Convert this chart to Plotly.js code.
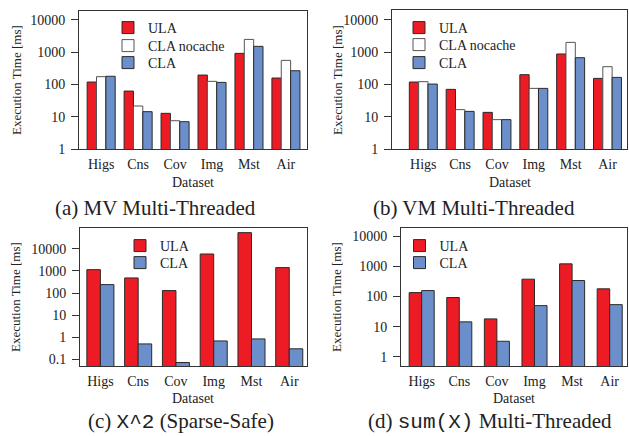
<!DOCTYPE html>
<html>
<head>
<meta charset="utf-8">
<script src="https://cdn.plot.ly/plotly-3.0.1.min.js"></script>
<style>html,body{margin:0;padding:0;background:#fff;}#chart{width:629px;height:436px;}</style>
</head>
<body>
<div id="chart"></div>
<script>
// ---- data ----
const datasets = ['Higs', 'Cns', 'Cov', 'Img', 'Mst', 'Air'];

// (a) MV Multi-Threaded
const mvULA     = [118, 62, 12.7, 194, 910, 157];
const mvNocache = [173, 21.4, 7.5, 124, 2460, 553];
const mvCLA     = [178, 14.3, 7.0, 115, 1500, 264];

// (b) VM Multi-Threaded
const vmULA     = [118, 70, 13.6, 199, 869, 153];
const vmNocache = [121, 16.5, 8.1, 75, 1990, 352];
const vmCLA     = [102, 14.6, 8.1, 75, 668, 164];

// (c) X^2 (Sparse-Safe)
const sqULA = [1140, 480, 129, 5820, 53700, 1410];
const sqCLA = [240, 0.50, 0.072, 0.68, 0.84, 0.30];

// (d) sum(X) Multi-Threaded
const sumULA = [135, 93, 18.2, 376, 1210, 180];
const sumCLA = [158, 14.5, 3.3, 50, 339, 54];

const ticksMain = [1, 10, 100, 1000, 10000];
const ticksMainText = ['1', '10', '100', '1000', '10000'];
const ticksSq = [0.1, 1, 10, 100, 1000, 10000];
const ticksSqText = ['0.1', '1', '10', '100', '1000', '10000'];

const MONO = 'Liberation Mono';
const captions = ['(a) MV Multi-Threaded', '(b) VM Multi-Threaded',
  '(c) <span style="font-family:' + MONO + '">X^2</span> (Sparse-Safe)',
  '(d) <span style="font-family:' + MONO + '">sum(X)</span> Multi-Threaded'];
const yTitle = 'Execution Time [ms]';
const xTitle = 'Dataset';
const names = ['ULA', 'CLA nocache', 'CLA'];

// ---- style ----
const RED = '#ed1c24', BLUE = '#6b8fca', WHITE = '#ffffff';
const EDGE = '#2a2a2a';
const SERIF = 'Liberation Serif';
const W = 629, H = 436;
const px = v => v / W;
const py = v => 1 - v / H;

function bar(x, y, name, color, xa, ya, lg, width, offset, edge) {
  return {
    type: 'bar', x: x, y: y, name: name, xaxis: xa, yaxis: ya, legend: lg,
    showlegend: true,
    width: width, offset: offset,
    marker: {color: color, line: {color: edge || EDGE, width: 1}},
    hoverinfo: 'x+y+name'
  };
}

const w3 = 0.253, w2c = 0.358, w2d = 0.333;
const traces = [
  bar(datasets, mvULA, names[0], RED, 'x', 'y', 'legend', w3, -1.5 * w3),
  bar(datasets, mvNocache, names[1], WHITE, 'x', 'y', 'legend2', w3, -0.5 * w3, '#555'),
  bar(datasets, mvCLA, names[2], BLUE, 'x', 'y', 'legend3', w3, 0.5 * w3),
  bar(datasets, vmULA, names[0], RED, 'x2', 'y2', 'legend4', w3, -1.5 * w3),
  bar(datasets, vmNocache, names[1], WHITE, 'x2', 'y2', 'legend5', w3, -0.5 * w3, '#555'),
  bar(datasets, vmCLA, names[2], BLUE, 'x2', 'y2', 'legend6', w3, 0.5 * w3),
  bar(datasets, sqULA, names[0], RED, 'x3', 'y3', 'legend7', w2c, -w2c),
  bar(datasets, sqCLA, names[2], BLUE, 'x3', 'y3', 'legend8', w2c, 0),
  bar(datasets, sumULA, names[0], RED, 'x4', 'y4', 'legend9', w2d, -w2d),
  bar(datasets, sumCLA, names[2], BLUE, 'x4', 'y4', 'legend10', w2d, 0)
];

function xax(dom, range, anchor) {
  return {
    domain: dom, range: range, anchor: anchor, type: 'category',
    showline: true, mirror: true, linecolor: '#333', linewidth: 1,
    ticks: '', showgrid: false, zeroline: false, fixedrange: true,
    tickfont: {family: SERIF, size: 14, color: '#222'}, ticklabelstandoff: 2
  };
}
function yax(dom, range, anchor, tv, tt) {
  return {
    domain: dom, range: range, anchor: anchor, type: 'log',
    tickvals: tv, ticktext: tt,
    showline: true, mirror: true, linecolor: '#333', linewidth: 1,
    ticks: 'outside', ticklen: 7, tickcolor: '#333', tickwidth: 1,
    showgrid: false, zeroline: false, fixedrange: true,
    tickfont: {family: SERIF, size: 14, color: '#222'}, ticklabelstandoff: 3
  };
}
function leg(xp, yp) {
  return {
    x: px(xp), y: py(yp), xanchor: 'left', yanchor: 'middle',
    bgcolor: 'rgba(0,0,0,0)', borderwidth: 0,
    font: {family: SERIF, size: 14, color: '#222'}, tracegroupgap: 0
  };
}
function ann(text, xp, yp, size, angle) {
  return {
    text: text, x: px(xp), y: py(yp), xref: 'paper', yref: 'paper',
    xanchor: 'center', yanchor: 'middle', showarrow: false,
    textangle: angle || 0,
    font: {family: SERIF, size: size, color: '#222'}
  };
}

const layout = {
  width: W, height: H,
  font: {family: SERIF, size: 14, color: '#222'},
  showlegend: true,
  margin: {l: 0, r: 0, t: 0, b: 0},
  paper_bgcolor: '#fff', plot_bgcolor: '#fff',
  barmode: 'overlay',
  xaxis:  xax([px(79), px(307)], [-0.6, 5.57], 'y'),
  yaxis:  yax([py(149), py(11)], [0, 4.27], 'x', ticksMain, ticksMainText),
  xaxis2: xax([px(392), px(627)], [-0.85, 5.53], 'y2'),
  yaxis2: yax([py(149), py(10)], [0, 4.30], 'x2', ticksMain, ticksMainText),
  xaxis3: xax([px(80), px(307)], [-0.54, 5.47], 'y3'),
  yaxis3: yax([py(366), py(228)], [-1.30, 4.94], 'x3', ticksSq, ticksSqText),
  xaxis4: xax([px(401), px(627)], [-0.55, 5.46], 'y4'),
  yaxis4: yax([py(366), py(228)], [-0.30, 4.27], 'x4', ticksMain, ticksMainText),
  legend:   leg(108, 28),
  legend2:  leg(108, 46),
  legend3:  leg(108, 63),
  legend4:  leg(399, 28),
  legend5:  leg(399, 45),
  legend6:  leg(399, 63),
  legend7:  leg(120, 246),
  legend8:  leg(120, 263),
  legend9:  leg(399.5, 246),
  legend10: leg(399.5, 263),
  annotations: [
    ann(yTitle, 16, 80, 13, -90),
    ann(yTitle, 337, 80, 13, -90),
    ann(yTitle, 15, 297, 13, -90),
    ann(yTitle, 336, 297, 13, -90),
    ann(xTitle, 193, 182, 14),
    ann(xTitle, 510, 182, 14),
    ann(xTitle, 193, 398, 14),
    ann(xTitle, 514, 398, 14),
    ann(captions[0], 155, 208, 21),
    ann(captions[1], 474, 208, 21),
    ann(captions[2], 181, 421, 21),
    ann(captions[3], 490, 421, 21)
  ]
};

Plotly.newPlot('chart', traces, layout, {staticPlot: true, displayModeBar: false});
</script>
</body>
</html>
